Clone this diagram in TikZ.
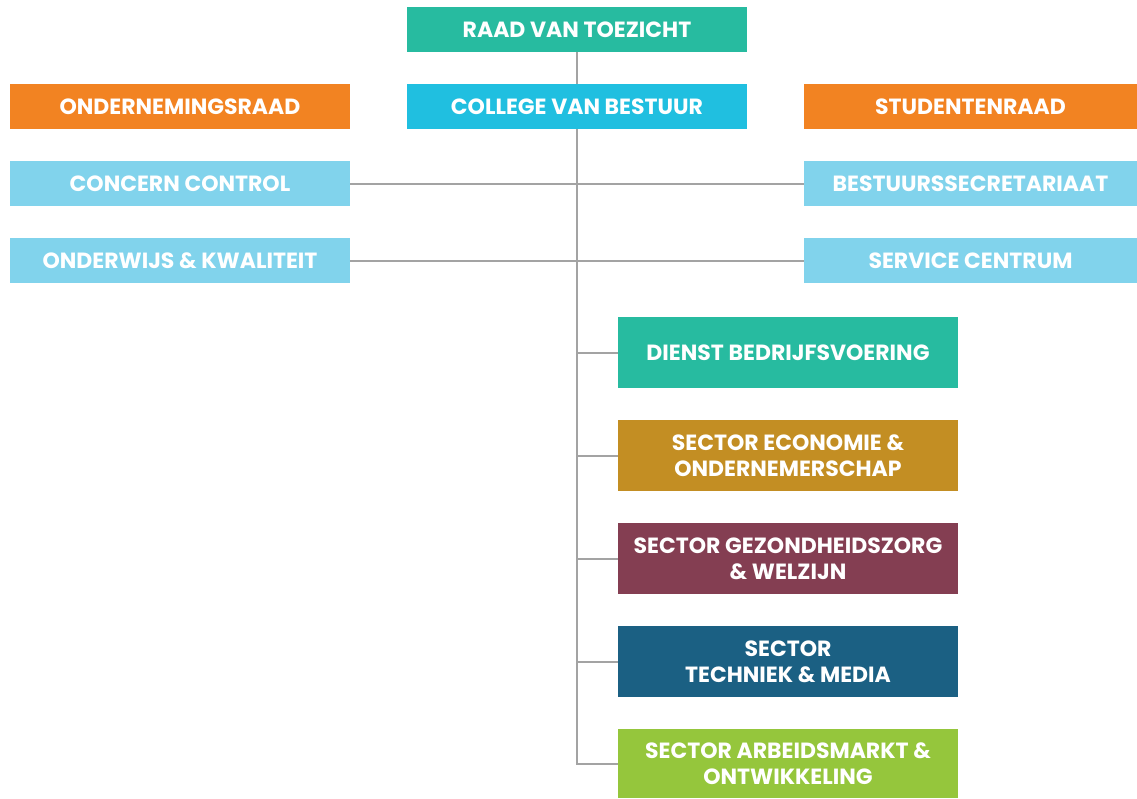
\documentclass[tikz,border=0pt]{standalone}
\usepackage{fontspec}
\setmainfont{Poppins}
\definecolor{teal}{HTML}{27BBA0}
\definecolor{cyaan}{HTML}{20BFE0}
\definecolor{oranje}{HTML}{F28322}
\definecolor{lichtblauw}{HTML}{81D3EC}
\definecolor{goud}{HTML}{C38E23}
\definecolor{bordeaux}{HTML}{843E52}
\definecolor{donkerblauw}{HTML}{1B6083}
\definecolor{groen}{HTML}{95C63C}
\definecolor{lijn}{HTML}{A3A3A3}
\begin{document}
\begin{tikzpicture}
  [x=1pt,y=-1pt,
   every node/.style={rectangle,inner sep=0pt,text=white,align=center,
     font=\fontsize{22}{26}\selectfont\bfseries},
   box/.style={minimum width=340pt,minimum height=45pt},
   sbox/.style={minimum width=340pt,minimum height=71pt}]
  \useasboundingbox (0,0) rectangle (1137,798);
  \node[box,fill=teal]        (rvt) at (577,29.5)   {RAAD VAN TOEZICHT};
  \node[box,fill=cyaan]       (cvb) at (577,106.5)  {COLLEGE VAN BESTUUR};
  \node[box,fill=oranje]      (or)  at (180,106.5)  {ONDERNEMINGSRAAD};
  \node[box,fill=oranje,minimum width=333pt] (sr) at (970.5,106.5) {STUDENTENRAAD};
  \node[box,fill=lichtblauw]  (cc)  at (180,183.5)  {CONCERN CONTROL};
  \node[box,fill=lichtblauw,minimum width=333pt] (bs) at (970.5,183.5) {BESTUURSSECRETARIAAT};
  \node[box,fill=lichtblauw]  (ok)  at (180,260.5)  {ONDERWIJS \& KWALITEIT};
  \node[box,fill=lichtblauw,minimum width=333pt] (sc) at (970.5,260.5) {SERVICE CENTRUM};

  \node[sbox,fill=teal]        (dbv) at (788,352.5) {DIENST BEDRIJFSVOERING};
  \node[sbox,fill=goud]        (seo) at (788,455.5) {SECTOR ECONOMIE \&\\ONDERNEMERSCHAP};
  \node[sbox,fill=bordeaux]    (sgw) at (788,558.5) {SECTOR GEZONDHEIDSZORG\\\& WELZIJN};
  \node[sbox,fill=donkerblauw] (stm) at (788,661.5) {SECTOR\\TECHNIEK \& MEDIA};
  \node[sbox,fill=groen,minimum height=69pt] (sao) at (788,763.5) {SECTOR ARBEIDSMARKT \&\\ONTWIKKELING};

  \draw [lijn,line width=2pt] (rvt) -- (cvb);
  \foreach \from/\to in {cc/bs,ok/sc}
    \draw [lijn,line width=2pt] (\from) -- (\to);
  \foreach \to in {dbv,seo,sgw,stm,sao}
    \draw [lijn,line width=2pt] (cvb) |- (\to);
\end{tikzpicture}
\end{document}
